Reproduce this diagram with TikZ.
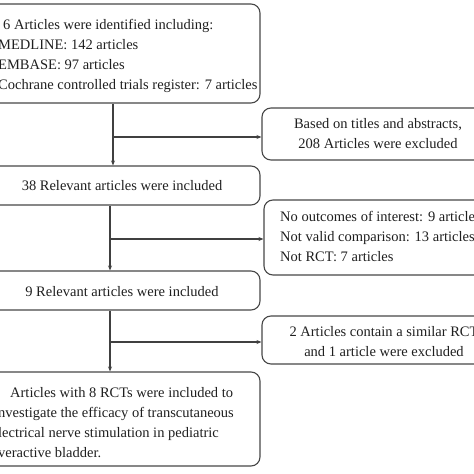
\documentclass[tikz,border=0pt]{standalone}
\usepackage{fontspec}
\setmainfont{Liberation Serif}
\usetikzlibrary{arrows.meta}
\begin{document}
\begin{tikzpicture}[x=1pt,y=-1pt,
  box/.style={draw=black!72, line width=1.1pt, rounded corners=9pt, inner sep=0pt},
  txt/.style={inner sep=0pt, text=black!88, font=\fontsize{14.5}{20}\selectfont},
  conn/.style={draw=black!75, line width=1.1pt},
  arr/.style={conn, -{Stealth[length=5pt,width=4pt]}}]
\useasboundingbox (0,0) rectangle (474,474);
\clip (0,0) rectangle (474,474);
% boxes
\node[box, minimum width=300pt, minimum height=99pt] (b1) at (110,53.5) {};
\node[box, minimum width=230pt, minimum height=52pt] (x1) at (377,134) {};
\node[box, minimum width=300pt, minimum height=39pt] (b2) at (110,185.5) {};
\node[box, minimum width=228pt, minimum height=75pt] (x2) at (378,237.5) {};
\node[box, minimum width=300pt, minimum height=39pt] (b3) at (110,290.5) {};
\node[box, minimum width=230pt, minimum height=48pt] (x3) at (377,340) {};
\node[box, minimum width=300pt, minimum height=94pt] (b4) at (110,419) {};
% texts
\node[txt, anchor=north west, align=left] (t1) at (-2,19) {\hspace*{5pt}6 Articles were identified including:\\MEDLINE: 142 articles\\EMBASE: 97 articles\\Cochrane controlled trials register: 7 articles};
\node[txt, align=center] (tx1) at (378,134) {Based on titles and abstracts,\\208 Articles were excluded};
\node[txt] (t2) at (122,186) {38 Relevant articles were included};
\node[txt, anchor=north west, align=left] (tx2) at (280,211) {No outcomes of interest: 9 articles\\Not valid comparison: 13 articles\\Not RCT: 7 articles};
\node[txt] (t3) at (122,292) {9 Relevant articles were included};
\node[txt, align=center] (tx3) at (384,342) {2 Articles contain a similar RCT\\and 1 article were excluded};
\node[txt, anchor=north west, align=left] (t4) at (-2,387) {\hspace*{12pt}Articles with 8 RCTs were included to\\nvestigate the efficacy of transcutaneous\\lectrical nerve stimulation in pediatric\\veractive bladder.};
% connectors
\coordinate (c1) at (113,137);
\coordinate (c2) at (110,239);
\coordinate (c3) at (110,342);
\draw[arr] (c1 |- b1.south) -- (c1 |- b2.north);
\draw[arr] (c1) -- (c1 -| x1.west);
\draw[arr] (c2 |- b2.south) -- (c2 |- b3.north);
\draw[arr] (c2) -- (c2 -| x2.west);
\draw[arr] (c3 |- b3.south) -- (c3 |- b4.north);
\draw[arr] (c3) -- (c3 -| x3.west);
\end{tikzpicture}
\end{document}
